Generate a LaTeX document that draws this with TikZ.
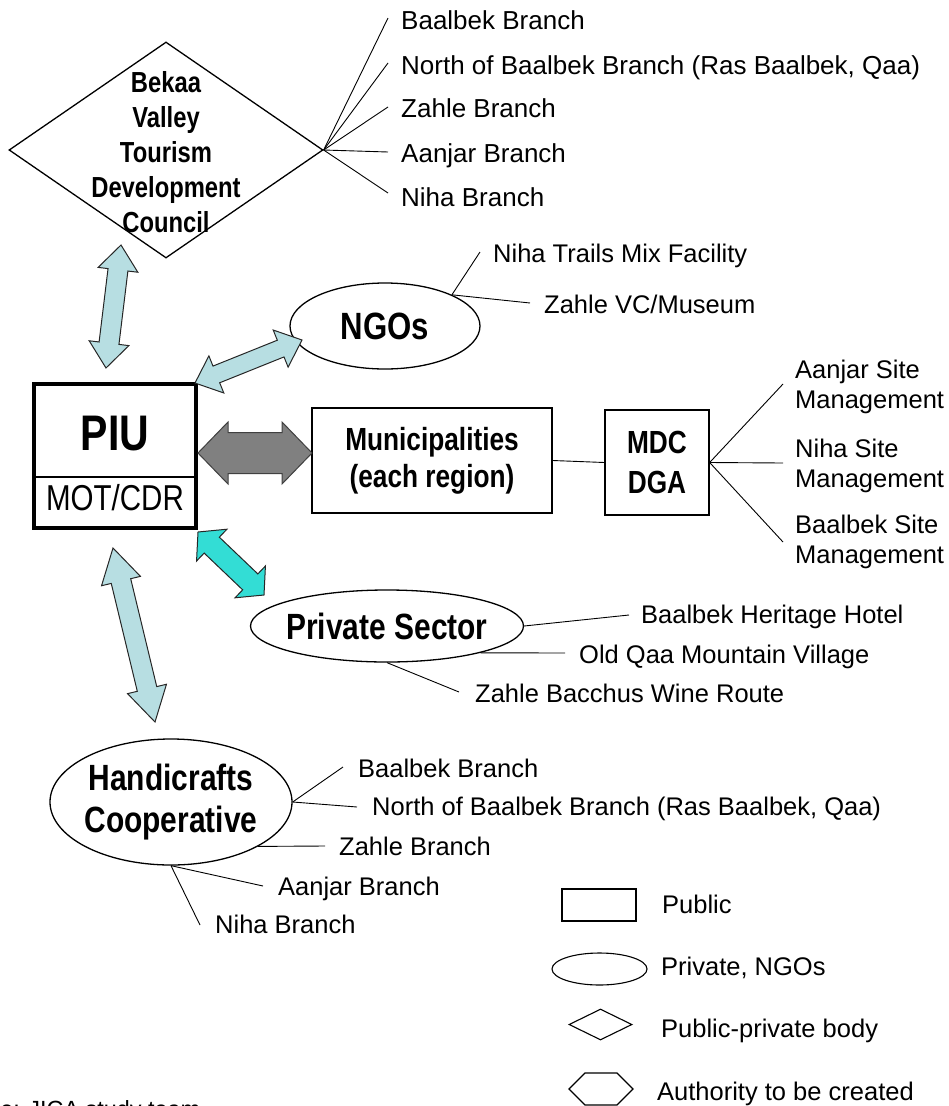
\documentclass[tikz,border=0pt]{standalone}
\usepackage{fontspec}
\setmainfont{Liberation Sans}
\newfontfamily\nb[FakeStretch=0.82]{Liberation Sans}
\usetikzlibrary{shapes.geometric,calc}
\definecolor{lightblue}{RGB}{183,222,226}
\definecolor{tealfill}{RGB}{51,221,213}
\definecolor{grayfill}{RGB}{128,128,128}
% #1 style, #2 start, #3 end, #4 shaft half width, #5 head half width, #6 head length
\newcommand{\fatarrow}[6]{%
  \coordinate (fa1) at ($(#2)!#6!(#3)$);
  \coordinate (fa2) at ($(#3)!#6!(#2)$);
  \draw[#1] (#2) -- ($(fa1)!#5!90:(#3)$) -- ($(fa1)!#4!90:(#3)$)
    -- ($(fa2)!#4!-90:(#2)$) -- ($(fa2)!#5!-90:(#2)$) -- (#3)
    -- ($(fa2)!#5!90:(#2)$) -- ($(fa2)!#4!90:(#2)$)
    -- ($(fa1)!#4!-90:(#3)$) -- ($(fa1)!#5!-90:(#3)$) -- cycle;
}
\begin{document}
\begin{tikzpicture}[x=1pt,y=-1pt,
  lab/.style={font=\fontsize{25.5}{30}\selectfont, inner sep=0pt, anchor=base west},
  toplab/.style={lab, font=\fontsize{26}{30}\selectfont},
  lab2/.style={font=\fontsize{25.5}{30}\selectfont, inner sep=0pt, anchor=north west, align=left},
  conn/.style={line width=0.9pt},
  shp/.style={draw, line width=1.3pt, inner sep=0pt},
  bigtxt/.style={font=\nb\bfseries\fontsize{36.5}{42}\selectfont},
  arr/.style={draw=black!85, line width=1pt, line join=miter},
  lbarrow/.style={arr, fill=lightblue},
  tlarrow/.style={arr, fill=tealfill},
  gyarrow/.style={arr, fill=grayfill, draw=black!75},
]
\useasboundingbox (0,0) rectangle (949,1106);
\clip (0,0) rectangle (949,1106);

% ---------- Bekaa Valley Tourism Development Council ----------
\node[shp, diamond, minimum width=314pt, minimum height=216pt] (bv) at (166,150) {};
\node[font=\nb\bfseries\fontsize{29}{35}\selectfont, align=center, inner sep=0pt] (bvt) at (166,152)
  {Bekaa\\Valley\\Tourism\\Development\\Council};
\coordinate (bt1) at (388,18);
\coordinate (bt2) at (388,63);
\coordinate (bt3) at (388,107);
\coordinate (bt4) at (388,152);
\coordinate (bt5) at (388,193);
\foreach \i in {1,...,5} \draw[conn] (bv.east) -- (bt\i);
\node[toplab] (b1) at (401,29) {Baalbek Branch};
\node[toplab] (b2) at (401,74) {North of Baalbek Branch (Ras Baalbek, Qaa)};
\node[toplab] (b3) at (401,117) {Zahle Branch};
\node[toplab] (b4) at (401,162) {Aanjar Branch};
\node[toplab] (b5) at (401,206) {Niha Branch};

% ---------- PIU ----------
\node[draw, line width=4pt, minimum width=162pt, minimum height=144pt, inner sep=0pt] (piu) at (115,456) {};
\draw[line width=1.3pt] (piu.west |- 0,477) -- (piu.east |- 0,477);
\node[font=\nb\bfseries\fontsize{50}{60}\selectfont, inner sep=0pt, anchor=base] (piut) at (115,450) {PIU};
\node[font=\nb\fontsize{36}{40}\selectfont, inner sep=0pt, anchor=base] (mot) at (115,510) {MOT/CDR};

% ---------- Municipalities and MDC ----------
\node[shp, minimum width=240pt, minimum height=105pt, align=center,
      font=\nb\bfseries\fontsize{32}{37}\selectfont] (muni) at (432,460.5) {Municipalities\\(each region)};
\node[shp, minimum width=104pt, minimum height=105pt, align=center,
      font=\nb\bfseries\fontsize{32}{40}\selectfont] (mdc) at (657,462.5) {MDC\\DGA};
\draw[conn] (muni.east) -- (mdc.west);
\coordinate (m1) at (783,384);
\coordinate (m2) at (783,463);
\coordinate (m3) at (783,542);
\foreach \i in {1,2,3} \draw[conn] (mdc.east) -- (m\i);
\node[lab2] (ms1) at (795,359.4) {Aanjar Site\\Management};
\node[lab2] (ms2) at (795,438.4) {Niha Site\\Management};
\node[lab2] (ms3) at (795,514.4) {Baalbek Site\\Management};

% ---------- NGOs ----------
\node[shp, ellipse, minimum width=190pt, minimum height=86pt,
      font=\nb\bfseries\fontsize{38}{44}\selectfont] (ngo) at (385,326) {NGOs};
\coordinate (n1) at (480,252);
\coordinate (n2) at (530,303);
\draw[conn] (ngo.25) -- (n1);
\draw[conn] (ngo.25) -- (n2);
\node[lab] (nl1) at (493,262) {Niha Trails Mix Facility};
\node[lab] (nl2) at (544,313) {Zahle VC/Museum};

% ---------- Private Sector ----------
\node[shp, ellipse, minimum width=273pt, minimum height=72pt, inner xsep=-6pt, bigtxt] (ps) at (387,626) {Private Sector};
\coordinate (p1) at (629,615);
\coordinate (p2) at (565,653);
\coordinate (p3) at (459,692);
\draw[conn] (ps.east) -- (p1);
\draw[conn] (ps.-16) -- (p2);
\draw[conn] (ps.south) -- (p3);
\node[lab] (pl1) at (641,623) {Baalbek Heritage Hotel};
\node[lab] (pl2) at (579,663) {Old Qaa Mountain Village};
\node[lab] (pl3) at (475,702) {Zahle Bacchus Wine Route};

% ---------- Handicrafts Cooperative ----------
\node[shp, ellipse, minimum width=242pt, minimum height=126pt, inner xsep=-3pt, align=center, bigtxt] (hc) at (171,802)
  {Handicrafts\\Cooperative};
\coordinate (h1) at (343,767);
\coordinate (h2) at (357,807);
\coordinate (h3) at (325,846);
\coordinate (h4) at (263,886);
\coordinate (h5) at (200,925);
\draw[conn] (hc.east) -- (h1);
\draw[conn] (hc.east) -- (h2);
\draw[conn] (hc.-27) -- (h3);
\draw[conn] (hc.south) -- (h4);
\draw[conn] (hc.south) -- (h5);
\node[lab] (hl1) at (358,777) {Baalbek Branch};
\node[lab] (hl2) at (372,815) {North of Baalbek Branch (Ras Baalbek, Qaa)};
\node[lab] (hl3) at (339,855) {Zahle Branch};
\node[lab] (hl4) at (278,895) {Aanjar Branch};
\node[lab] (hl5) at (215,933) {Niha Branch};

% ---------- Block arrows ----------
\coordinate (a1s) at (121,245);
\coordinate (a1e) at (106,368);
\coordinate (a2s) at (302,340);
\coordinate (a2e) at (195,383);
\coordinate (a3s) at (198,453);
\coordinate (a3e) at (312,453);
\coordinate (a4s) at (198,532);
\coordinate (a4e) at (264,595);
\coordinate (a5s) at (113,548);
\coordinate (a5e) at (155,722);
\fatarrow{lbarrow}{a1s}{a1e}{10pt}{20pt}{25pt}
\fatarrow{lbarrow}{a2s}{a2e}{9pt}{20pt}{23pt}
\fatarrow{gyarrow}{a3s}{a3e}{20.5pt}{31pt}{30pt}
\fatarrow{tlarrow}{a4s}{a4e}{11pt}{22pt}{19pt}
\fatarrow{lbarrow}{a5s}{a5e}{10pt}{20pt}{34pt}

% ---------- Legend ----------
\node[shp, line width=1.1pt, minimum width=74pt, minimum height=32pt] (lg1) at (599,905) {};
\node[shp, line width=1.1pt, ellipse, minimum width=95pt, minimum height=32pt] (lg2) at (599.5,969) {};
\node[shp, line width=1.1pt, diamond, minimum width=63pt, minimum height=31pt] (lg3) at (600.5,1024.5) {};
\draw[line width=1.1pt] (569,1089) -- (585,1073) -- (617,1073) -- (633,1089) -- (617,1105) -- (585,1105) -- cycle;
\node[lab] (lt1) at (662,913) {Public};
\node[lab] (lt2) at (661,975) {Private, NGOs};
\node[lab] (lt3) at (661,1037) {Public-private body};
\node[lab] (lt4) at (657,1100) {Authority to be created};

% ---------- Source (cut at the picture's edge, as in the original) ----------
\node[lab, font=\fontsize{23.4}{28}\selectfont] (src) at (-61,1117) {Source: JICA study team};
\end{tikzpicture}
\end{document}
